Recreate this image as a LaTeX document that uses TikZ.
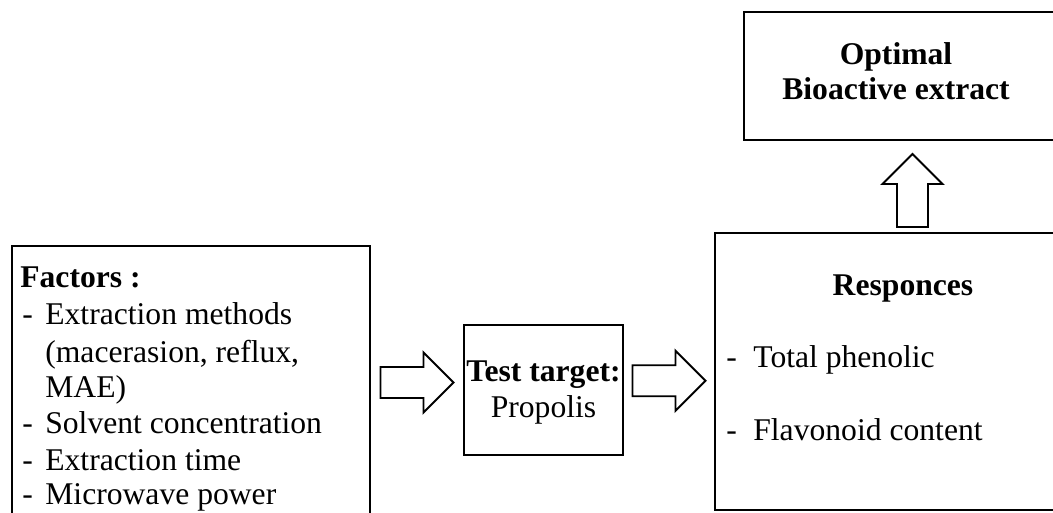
\documentclass[tikz,border=0pt]{standalone}
\usepackage{fontspec}
\setmainfont{Liberation Serif}
\usetikzlibrary{fit,calc}

\tikzset{
	box/.style={draw, line width=1.1pt, inner sep=0pt},
	txt/.style={anchor=base west, inner sep=0pt, font=\fontsize{18}{21}\selectfont},
	ctxt/.style={txt, anchor=base},
	bigarrow/.pic={
		\draw[line width=1.1pt, line join=miter, fill=white]
		(-36.5,-15.5) -- (6.5,-15.5) -- (6.5,-30) -- (36.5,0)
		-- (6.5,30) -- (6.5,15.5) -- (-36.5,15.5) -- cycle;
	}
}

\begin{document}
\begin{tikzpicture}[x=0.02cm, y=-0.02cm]
		\useasboundingbox (0,0) rectangle (1053,513);
		\clip (0,0) rectangle (1053,513);
		% boxes (some run past the frame)
		\node[box, fit={(12,246) (370,519)}] (factors) {};
		\node[box, fit={(464,325) (623,455)}] (test) {};
		\node[box, fit={(715,233) (1110,510)}] (resp) {};
		\node[box, fit={(744,12) (1081,140)}] (optimal) {};
		
		% factors list
		\node[txt] (fhead) at (20,287) {\textbf{Factors :}};
		\foreach \y [count=\i] in {324,433,470,504}
			\node[txt] (fd\i) at (22,\y) {-};
		\node[txt] (f1) at (45,324) {Extraction methods};
		\node[txt] (f2) at (45,362) {(macerasion, reflux,};
		\node[txt] (f3) at (45,397) {MAE)};
		\node[txt] (f4) at (45,433) {Solvent concentration};
		\node[txt] (f5) at (45,470) {Extraction time};
		\node[txt] (f6) at (45,504) {Microwave power};
		
		% test target
		\node[ctxt] (thead) at (543.5,381) {\textbf{Test target:}};
		\node[ctxt] (tname) at (543.5,417) {Propolis};
		
		% responces
		\node[ctxt] (rhead) at (903,295) {\textbf{Responces}};
		\node[txt] (rd1) at (726,367) {-};
		\node[txt] (r1) at (753,367) {Total phenolic};
		\node[txt] (rd2) at (726,440) {-};
		\node[txt] (r2) at (753,440) {Flavonoid content};
		
		% optimal extract
		\node[ctxt] (ohead) at (896,65) {\textbf{Optimal}};
		\node[ctxt] (oname) at (896,100) {\textbf{Bioactive extract}};
		
		% hollow arrows between the boxes
		\pic at ($(factors.east)!.5!(factors.east -| test.west)$) {bigarrow};
		\pic at ($(test.east)!.5!(resp.west)$) {bigarrow};
		\pic[rotate=90] at ($(resp.north)!.5!(optimal.south)+(0,4)$) {bigarrow};
\end{tikzpicture}
\end{document}
